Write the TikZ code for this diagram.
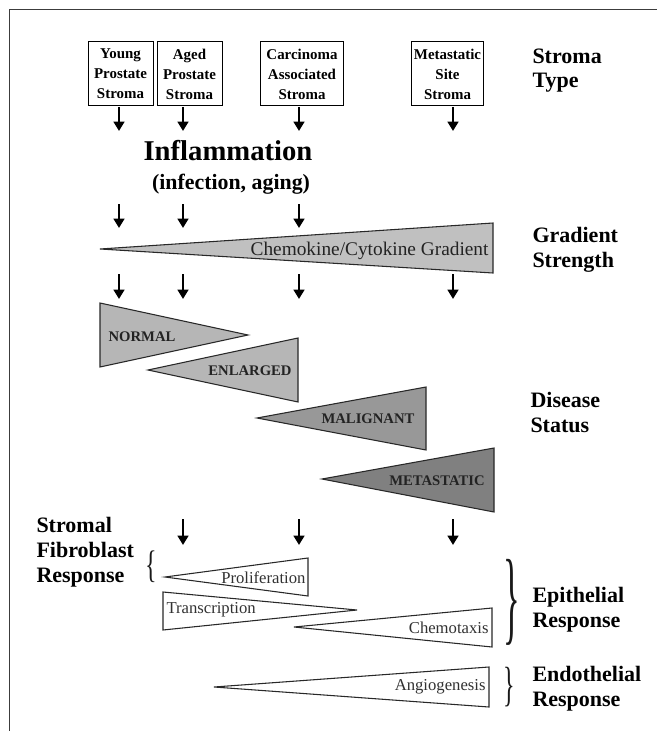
\documentclass[tikz,border=0pt]{standalone}
\usepackage{fontspec}
\setmainfont{Liberation Serif}
\usetikzlibrary{arrows.meta}

\tikzset{every picture/.style={line width=0.75pt}}
\tikzset{
  stromabox/.style={draw, align=center, inner sep=0pt, minimum height=48pt,
    font=\fontsize{11.2}{15}\selectfont\bfseries},
  downarr/.style={line width=2.2pt, -{Triangle[width=8pt,length=7pt]}},
  sidelabel/.style={anchor=north west, inner sep=0pt, align=left,
    font=\fontsize{16.5}{18.5}\selectfont\bfseries},
  wedge/.style={draw={rgb, 255:red, 40; green, 40; blue, 40}, line width=0.8pt},
  capslabel/.style={inner sep=0pt, text={rgb, 255:red, 35; green, 35; blue, 35},
    font=\fontsize{11}{13}\selectfont\bfseries},
  resplabel/.style={inner sep=0pt, text={rgb, 255:red, 50; green, 50; blue, 50},
    font=\fontsize{12.5}{14}\selectfont},
  bracenode/.style={inner sep=0pt, text={rgb, 255:red, 25; green, 25; blue, 25}}
}

\begin{document}
\begin{tikzpicture}[x=0.75pt,y=0.75pt,yscale=-1,xscale=1]
\useasboundingbox (0,0) rectangle (657,731);

%Frame
\draw [color={rgb, 255:red, 60; green, 60; blue, 60 }, line width=0.9pt] (9.5,731) -- (9.5,9.5) -- (657,9.5) ;

% Stroma boxes
\node (young) [stromabox, minimum width=48.75pt] at (120.5,74) {Young\\Prostate\\Stroma};
\node (aged) [stromabox, minimum width=48.75pt] at (189.5,74) {Aged\\Prostate\\Stroma};
\node (carcinoma) [stromabox, minimum width=62pt] at (302,74) {Carcinoma\\Associated\\Stroma};
\node (metsite) [stromabox, minimum width=54pt] at (447.5,74) {Metastatic\\Site\\Stroma};

% Text Node
\node (stromatype) [sidelabel] at (532,48) {Stroma\\Type};
% Text Node
\node (inflam) [inner sep=0pt, font=\fontsize{21.5}{24}\selectfont\bfseries] at (228,151) {Inflammation};
% Text Node
\node (inflamsub) [inner sep=0pt, font=\fontsize{16.4}{18}\selectfont\bfseries] at (231,184) {(infection, aging)};

%Arrows
\foreach \x [count=\i] in {119,183,299,453}{
  \coordinate (s1-\i) at (\x,107);
  \coordinate (e1-\i) at (\x,131);
  \draw [downarr] (s1-\i) -- (e1-\i);
}
\foreach \x [count=\i] in {119,183,299}{
  \coordinate (s2-\i) at (\x,204);
  \coordinate (e2-\i) at (\x,228);
  \draw [downarr] (s2-\i) -- (e2-\i);
}
\foreach \x [count=\i] in {119,183,299,453}{
  \coordinate (s3-\i) at (\x,274);
  \coordinate (e3-\i) at (\x,299);
  \draw [downarr] (s3-\i) -- (e3-\i);
}
\foreach \x [count=\i] in {183,299,453}{
  \coordinate (s4-\i) at (\x,519);
  \coordinate (e4-\i) at (\x,545);
  \draw [downarr] (s4-\i) -- (e4-\i);
}

%Shape: Triangle (gradient)
\draw [wedge, fill={rgb, 255:red, 192; green, 192; blue, 192 }] (100,249) -- (493,223) -- (493,273) -- cycle ;
% Text Node
\node (gradient) [inner sep=0pt, anchor=east, text={rgb, 255:red, 35; green, 35; blue, 35}, font=\fontsize{14.5}{16}\selectfont] at (489,251) {Chemokine/Cytokine Gradient};
% Text Node
\node (gradstrength) [sidelabel] at (532,227) {Gradient\\Strength};

%Shape: Triangle (normal)
\draw [wedge, fill={rgb, 255:red, 182; green, 182; blue, 182 }] (100,303) -- (100,367) -- (248,335) -- cycle ;
%Shape: Triangle (enlarged)
\draw [wedge, fill={rgb, 255:red, 182; green, 182; blue, 182 }] (298,338) -- (298,402) -- (148,370) -- cycle ;
%Shape: Triangle (malignant)
\draw [wedge, fill={rgb, 255:red, 152; green, 152; blue, 152 }] (426,387) -- (426,450) -- (257,418) -- cycle ;
%Shape: Triangle (metastatic)
\draw [wedge, fill={rgb, 255:red, 128; green, 128; blue, 128 }] (494,448) -- (494,512) -- (322,479) -- cycle ;

% Text Node
\node (normal) [capslabel] at (142,337) {NORMAL};
% Text Node
\node (enlarged) [capslabel] at (250,371) {ENLARGED};
% Text Node
\node (malignant) [capslabel] at (368,419) {MALIGNANT};
% Text Node
\node (metastatic) [capslabel] at (437,481) {METASTATIC};
% Text Node
\node (disease) [sidelabel] at (530,392) {Disease\\Status};

% Text Node
\node (stromal) [sidelabel] at (36,517) {Stromal\\Fibroblast\\Response};
\node (fibbrace) [bracenode] at (151,567) {\scalebox{1}[1.6]{\fontsize{18}{18}\selectfont\{}};

%Shape: Triangle (proliferation)
\draw [wedge, fill=white] (165,577) -- (308,558) -- (308,596) -- cycle ;
%Shape: Triangle (transcription)
\draw [wedge, fill=white] (163,592) -- (163,630) -- (357,610) -- cycle ;
%Shape: Triangle (chemotaxis)
\draw [wedge, fill=white] (294,627) -- (492,608) -- (492,647) -- cycle ;
%Shape: Triangle (angiogenesis)
\draw [wedge, fill=white] (214,687) -- (489,667) -- (489,707) -- cycle ;

% Text Node
\node (prolif) [resplabel, anchor=east] at (306,578) {Proliferation};
% Text Node
\node (transcr) [resplabel, anchor=west] at (166,610) {Transcription};
% Text Node
\node (chemotax) [resplabel, anchor=east] at (489,628) {Chemotaxis};
% Text Node
\node (angio) [resplabel, anchor=east] at (486,687) {Angiogenesis};

\node (epibrace) [bracenode] at (512,602) {\scalebox{1}[3]{\fontsize{26}{26}\selectfont\}}};
\node (endobrace) [bracenode] at (509,687) {\scalebox{1}[2]{\fontsize{18}{18}\selectfont\}}};
% Text Node
\node (epithelial) [sidelabel] at (532,587) {Epithelial\\Response};
% Text Node
\node (endothelial) [sidelabel] at (532,666) {Endothelial\\Response};

\end{tikzpicture}
\end{document}
